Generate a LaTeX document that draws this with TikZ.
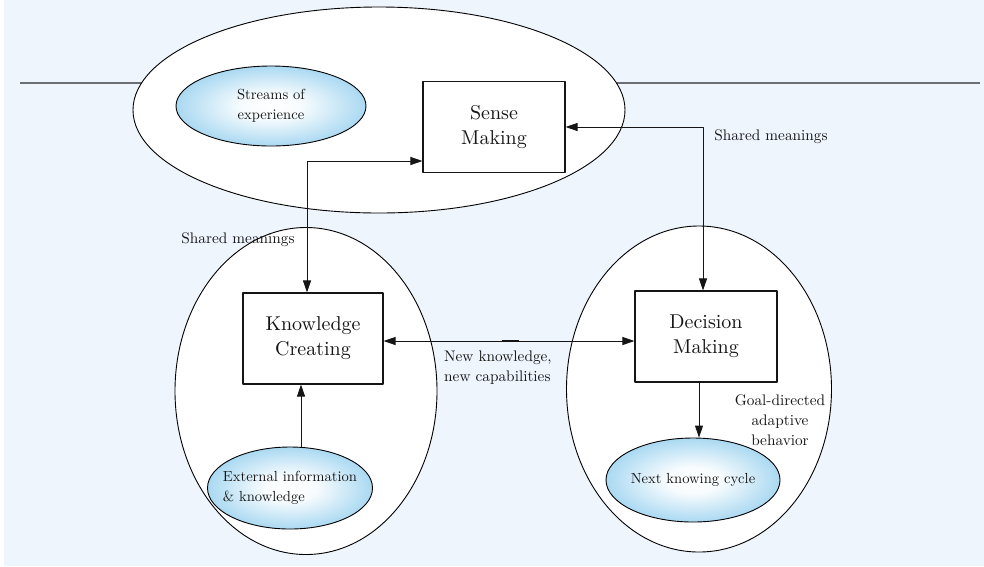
\documentclass[tikz,border=0pt]{standalone}
\usetikzlibrary{shapes.geometric, arrows.meta}

\font\boxfont="[lmroman10-regular.otf]:mapping=tex-text" at 20pt
\font\notefont="[lmroman10-regular.otf]:mapping=tex-text" at 15.3pt
\font\cellfont="[lmroman10-regular.otf]:mapping=tex-text" at 14.6pt

\definecolor{paleblue}{HTML}{EEF5FC}
\definecolor{skyblue}{HTML}{38A6E0}
\definecolor{inkgray}{HTML}{151515}
\definecolor{rulegray}{HTML}{6B6F73}
\pgfdeclareradialshading{skyglow}{\pgfpoint{0bp}{0bp}}{color(0bp)=(white); color(8bp)=(white!96!skyblue); color(50bp)=(skyblue)}

\tikzset{
    field/.style={ellipse, draw=black, line width=0.9pt, fill=white, inner sep=0pt},
    source/.style={ellipse, draw=black, line width=0.9pt, shading=skyglow, inner sep=0pt},
    process/.style={rectangle, draw=inkgray, line width=1.1pt, fill=white, inner sep=0pt,
        minimum width=142pt, minimum height=91pt, align=center, text=inkgray,
        font={\boxfont\baselineskip=25pt}},
    flow/.style={line width=0.9pt, draw=inkgray},
    note/.style={text=inkgray, font={\notefont\baselineskip=20pt}, inner sep=0pt},
    cellnote/.style={note, font={\cellfont\baselineskip=20pt}}
}

\begin{document}
\begin{tikzpicture}[x=1pt, y=-1pt, line cap=round, line join=round,
    >={Triangle[length=12pt, width=8pt]}]
    % Background
    \fill[paleblue] (4,0) rectangle (984,566);
    \useasboundingbox (0,0) rectangle (984,566);

    % Divider
    \coordinate (ruleL) at (20,83);
    \coordinate (ruleR) at (980,83);
    \draw[rulegray, line width=1.4pt, line cap=butt] (ruleL) -- (ruleR);

    % Outer fields
    \node[field, minimum width=492pt, minimum height=206pt] (topfield) at (379,110) {};
    \node[field, minimum width=262pt, minimum height=327pt] (leftfield) at (306,391) {};
    \node[field, minimum width=265pt, minimum height=326pt] (rightfield) at (699,389) {};

    % Sources and outcome
    \node[source, minimum width=190pt, minimum height=80pt,
        label={[cellnote, align=center]center:Streams of\\experience}] (streams) at (271,106) {};
    \node[source, minimum width=165pt, minimum height=82pt,
        label={[cellnote, align=left]center:External information\\\& knowledge}] (external) at (290,488) {};
    \node[source, minimum width=174pt, minimum height=84pt,
        label={[cellnote]center:Next knowing cycle}] (nextcycle) at (693,480) {};

    % Processes
    \node[process] (sense) at (494,127) {Sense\\Making};
    \node[process, minimum width=140pt] (knowing) at (313,338.5) {Knowledge\\Creating};
    \node[process] (deciding) at (706,336.5) {Decision\\Making};

    % Connectors
    \draw[flow, <->] ([xshift=-6pt]knowing.north) |- ([yshift=-34pt]sense.west);
    \draw[flow, <->] (sense.east) -| ([xshift=-3pt]deciding.north);
    \draw[flow, <->] ([yshift=-2.5pt]knowing.east) -- ([yshift=-4.5pt]deciding.west);
    \draw[inkgray, line width=2.4pt, line cap=butt] ([xshift=118pt, yshift=-2.5pt]knowing.east)
        -- ([xshift=135pt, yshift=-2.5pt]knowing.east);
    \draw[flow, ->] ([xshift=11pt]external.north) -- ([xshift=-12pt]knowing.south);
    \draw[flow, ->] ([xshift=-7pt]deciding.south) -- ([xshift=6pt]nextcycle.north);

    % Labels
    \node[note] (sharedL) at (238,240) {Shared meanings};
    \node[note] (sharedR) at (771,137) {Shared meanings};
    \node[note, anchor=west, align=left] (newknow) at (444,368) {New knowledge,\\new capabilities};
    \node[note, align=center] (goal) at (780,420) {Goal-directed\\adaptive\\behavior};
\end{tikzpicture}
\end{document}
